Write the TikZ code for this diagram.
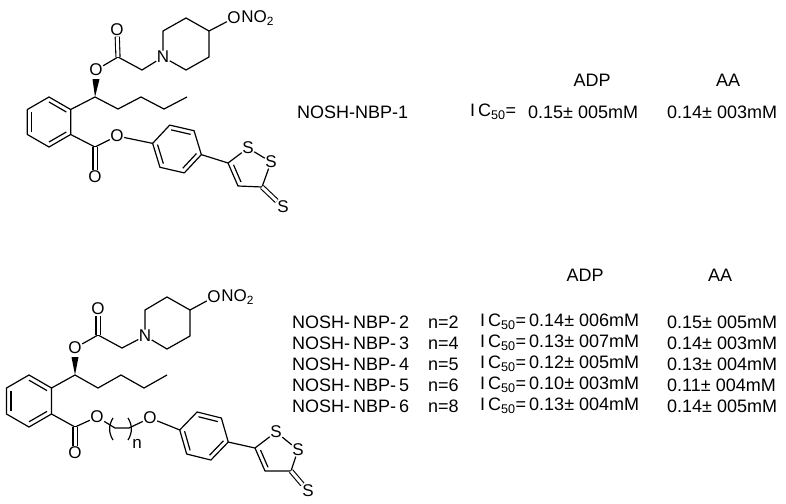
\documentclass[tikz,border=0pt]{standalone}
\usepackage{fontspec}
\setmainfont{Liberation Sans}
\usetikzlibrary{calc}
\tikzset{
  bond/.style={line width=1.2pt},
  dbond/.style={line width=1.1pt,double,double distance=3pt},
  atom/.style={inner sep=0.4pt,font=\fontsize{17}{17}\selectfont},
  lbl/.style={inner sep=0pt,anchor=west,font=\fontsize{18}{18}\selectfont},
  hdr/.style={inner sep=0pt,font=\fontsize{18}{18}\selectfont}
}
\newcommand\icf{I\,C\textsubscript{50}=}
\begin{document}
\begin{tikzpicture}[x=1pt,y=-1pt,line join=round]
\useasboundingbox (0,0) rectangle (786,503);
% ================= TOP =================
\coordinate (tc) at (49,122);
\foreach \a/\n in {-90/t1,-30/t2,30/t3,90/t4,150/t5,210/t6} \coordinate (\n) at ($(tc)+(\a:25)$);
\draw[bond] (t1)--(t2)--(t3)--(t4)--(t5)--(t6)--cycle;
\draw[bond] ($(t1)!.2!(tc)$)--($(t2)!.2!(tc)$);
\draw[bond] ($(t3)!.2!(tc)$)--($(t4)!.2!(tc)$);
\draw[bond] ($(t5)!.2!(tc)$)--($(t6)!.2!(tc)$);
\coordinate (tcs) at (95,97);
\node[atom] (toa) at (96,70) {O};
\coordinate (tcc) at (118,57);
\node[atom] (tod) at (117,30) {O};
\coordinate (tch) at (142,70);
\node[atom] (tn) at (163,57) {N};
\coordinate (tp1) at (163,31);
\coordinate (tp2) at (186,18);
\coordinate (tp3) at (209,31);
\coordinate (tp4) at (209,57);
\coordinate (tp5) at (186,70);
\node[atom] (tono) at (234,18) {O};
\node[atom,anchor=west,inner sep=0pt] (tno) at (tono.east) {NO\textsubscript{2}};
\draw[bond] (t2)--(tcs);
\fill (tcs)--(92.5,79)--(99.5,79)--cycle;
\draw[bond] (toa)--(tcc)--(tch)--(tn)--(tp1)--(tp2)--(tp3)--(tp4)--(tp5)--(tn);
\draw[dbond] (tcc)--(tod);
\draw[bond] (tp3)--(tono);
\draw[bond] (tcs)--(118,109)--(141,97)--(164,109)--(187,97);
\coordinate (tce) at (95,147);
\node[atom] (toe2) at (95,177) {O};
\node[atom] (toe) at (117,136) {O};
\draw[bond] (t3)--(tce)--(toe);
\draw[dbond] (tce)--(toe2);
\coordinate (ac) at (177,149);
\foreach \a/\n in {193/a1,253/a2,313/a3,13/a4,73/a5,133/a6} \coordinate (\n) at ($(ac)+(\a:25)$);
\draw[bond] (a1)--(a2)--(a3)--(a4)--(a5)--(a6)--cycle;
\draw[bond] ($(a2)!.2!(ac)$)--($(a3)!.2!(ac)$);
\draw[bond] ($(a4)!.2!(ac)$)--($(a5)!.2!(ac)$);
\draw[bond] ($(a6)!.2!(ac)$)--($(a1)!.2!(ac)$);
\draw[bond] (toe)--(a1);
\coordinate (d5) at (228,163);
\node[atom] (ds1) at (248,148) {S};
\node[atom] (ds2) at (271,162) {S};
\coordinate (d3) at (262,187);
\coordinate (d4) at (238,186);
\node[atom] (dsx) at (283,207) {S};
\coordinate (dc) at (250,170);
\draw[bond] (a4)--(d5)--(ds1)--(ds2)--(d3)--(d4)--(d5);
\draw[bond] ($(d4)!.25!(dc)$)--($(d5)!.25!(dc)$);
\draw[dbond] (d3)--(dsx);
% labels top
\node[hdr] (adp1) at (592,80) {ADP};
\node[hdr] (aa1) at (728,80) {AA};
\node[lbl] (nb1) at (297,112) {NOSH-NBP-1};
\node[lbl] (ic1) at (470,112) {\icf};
\node[lbl] (v1) at (528,112) {0.15± 005mM};
\node[lbl] (w1) at (667,112) {0.14± 003mM};
% ================= BOTTOM =================
\coordinate (bc) at (29,401);
\foreach \a/\n in {-90/b1,-30/b2,30/b3,90/b4,150/b5,210/b6} \coordinate (\n) at ($(bc)+(\a:26)$);
\draw[bond] (b1)--(b2)--(b3)--(b4)--(b5)--(b6)--cycle;
\draw[bond] ($(b1)!.2!(bc)$)--($(b2)!.2!(bc)$);
\draw[bond] ($(b3)!.2!(bc)$)--($(b4)!.2!(bc)$);
\draw[bond] ($(b5)!.2!(bc)$)--($(b6)!.2!(bc)$);
\coordinate (bcs) at (75,375);
\node[atom] (boa) at (75,348) {O};
\coordinate (bcc) at (98,335);
\node[atom] (bod) at (98,309) {O};
\coordinate (bch) at (122,348);
\node[atom] (bn) at (145,336) {N};
\coordinate (bp1) at (145,310);
\coordinate (bp2) at (167,297);
\coordinate (bp3) at (190,310);
\coordinate (bp4) at (190,336);
\coordinate (bp5) at (167,349);
\node[atom] (bono) at (214,297) {O};
\node[atom,anchor=west,inner sep=0pt] (bno) at (bono.east) {NO\textsubscript{2}};
\draw[bond] (b2)--(bcs);
\fill (bcs)--(71.5,357)--(78.5,357)--cycle;
\draw[bond] (boa)--(bcc)--(bch)--(bn)--(bp1)--(bp2)--(bp3)--(bp4)--(bp5)--(bn);
\draw[dbond] (bcc)--(bod);
\draw[bond] (bp3)--(bono);
\draw[bond] (bcs)--(98,388)--(121,375)--(144,388)--(167,375);
\coordinate (bce) at (75,427);
\node[atom] (boe2) at (75,453) {O};
\node[atom] (boe) at (97,417) {O};
\draw[bond] (b3)--(bce)--(boe);
\draw[dbond] (bce)--(boe2);
\coordinate (k1) at (115,428);
\coordinate (k2) at (129,428);
\node[atom] (bo2) at (150,418) {O};
\draw[bond] (boe)--(k1)--(k2)--(bo2);
\draw[bond] (113,418) .. controls (108.5,425) and (108.5,433) .. (113,440);
\draw[bond] (128,418) .. controls (132.5,425) and (132.5,433) .. (128,440);
\node[atom] (nn) at (137,444) {n};
\coordinate (pc) at (204,436);
\foreach \a/\n in {194/p1,254/p2,314/p3,14/p4,74/p5,134/p6} \coordinate (\n) at ($(pc)+(\a:25)$);
\draw[bond] (p1)--(p2)--(p3)--(p4)--(p5)--(p6)--cycle;
\draw[bond] ($(p2)!.2!(pc)$)--($(p3)!.2!(pc)$);
\draw[bond] ($(p4)!.2!(pc)$)--($(p5)!.2!(pc)$);
\draw[bond] ($(p6)!.2!(pc)$)--($(p1)!.2!(pc)$);
\draw[bond] (bo2)--(p1);
\coordinate (e5) at (255,448);
\node[atom] (es1) at (276,432) {S};
\node[atom] (es2) at (298,450) {S};
\coordinate (e3) at (291,471);
\coordinate (e4) at (265,471);
\node[atom] (esx) at (308,491) {S};
\coordinate (ec) at (277,456);
\draw[bond] (p4)--(e5)--(es1)--(es2)--(e3)--(e4)--(e5);
\draw[bond] ($(e4)!.25!(ec)$)--($(e5)!.25!(ec)$);
\draw[dbond] (e3)--(esx);
% labels bottom
\node[hdr] (adp2) at (585,275) {ADP};
\node[hdr] (aa2) at (720,275) {AA};
\foreach \y/\c/\nn/\v/\w in {322/2/2/0.14± 006mM/0.15± 005mM,343/3/4/0.13± 007mM/0.14± 003mM,364/4/5/0.12± 005mM/0.13± 004mM,385/5/6/0.10± 003mM/0.11± 004mM,406/6/8/0.13± 004mM/0.14± 005mM}{
  \node[lbl] (nm\c) at (292,\y) {NOSH-\,NBP-\,\c};
  \node[lbl] (ne\c) at (428,\y) {n=\nn};
  \node[lbl] (ic\c) at (480,\y) {\icf\,\v};
  \node[lbl] (aw\c) at (667,\y) {\w};
}
\end{tikzpicture}
\end{document}
